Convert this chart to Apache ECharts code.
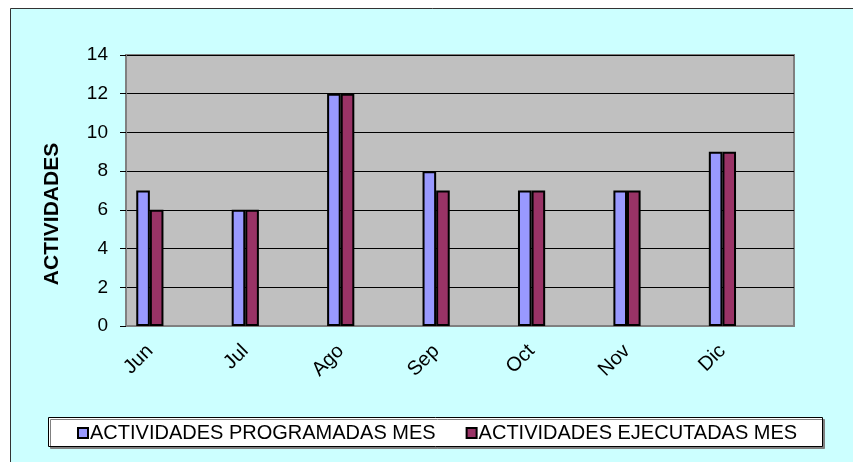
<!DOCTYPE html>
<html>
<head>
<meta charset="utf-8">
<script src="https://cdn.jsdelivr.net/npm/echarts@6/dist/echarts.min.js"></script>
<style>
html,body{margin:0;padding:0;background:#fff;}
#c{width:853px;height:462px;}
</style>
</head>
<body>
<div id="c"></div>
<script>
const categories = ['Jun', '', 'Jul', '', 'Ago', '', 'Sep', '', 'Oct', '', 'Nov', '', 'Dic', ''];
const programadas = [7, null, 6, null, 12, null, 8, null, 7, null, 7, null, 9, null];
const ejecutadas = [6, null, 6, null, 12, null, 7, null, 7, null, 7, null, 9, null];
const seriesNames = ['ACTIVIDADES PROGRAMADAS MES', 'ACTIVIDADES EJECUTADAS MES'];
const yTitle = 'ACTIVIDADES';

const chart = echarts.init(document.getElementById('c'), null, {renderer: 'canvas'});
const font = 'Arial, "Liberation Sans", sans-serif';
chart.setOption({
  animation: false,
  backgroundColor: '#ffffff',
  graphic: [
    {type: 'rect', z: -10, shape: {x: 10.5, y: 8.5, width: 860, height: 470},
     style: {fill: '#CCFFFF', stroke: '#333333', lineWidth: 1}},
    {type: 'rect', z: 1, shape: {x: 48.5, y: 417.5, width: 774, height: 29},
     style: {fill: '#ffffff', stroke: '#000000', lineWidth: 1,
             shadowColor: '#808080', shadowOffsetX: 2, shadowOffsetY: 2, shadowBlur: 0}},
    {type: 'text', x: 52, y: 214, rotation: Math.PI / 2, z: 5,
     style: {text: yTitle, fill: '#000', font: 'bold 21px ' + font, align: 'center', verticalAlign: 'middle'}}
  ],
  grid: {left: 126, top: 55, right: 59, bottom: 136, show: true,
         backgroundColor: '#C0C0C0', borderColor: '#808080', borderWidth: 2},
  legend: {
    data: seriesNames,
    left: 72, top: 418,
    itemWidth: 10, itemHeight: 10, itemGap: 30,
    icon: 'rect',
    textStyle: {fontFamily: font, fontSize: 20, color: '#000', padding: [0, 0, 0, -3]},
    z: 10
  },
  xAxis: {
    type: 'category', data: categories,
    axisLine: {lineStyle: {color: '#808080', width: 2}},
    axisTick: {interval: 0, length: 6, lineStyle: {color: '#000'}},
    axisLabel: {interval: 0, rotate: 45, margin: 22, color: '#000', fontFamily: font, fontSize: 20}
  },
  yAxis: {
    type: 'value', min: 0, max: 14, interval: 2,
    axisLine: {show: true, lineStyle: {color: '#808080', width: 2}},
    axisTick: {show: true, length: 6, lineStyle: {color: '#000'}},
    axisLabel: {margin: 18, color: '#000', fontFamily: font, fontSize: 19},
    splitLine: {lineStyle: {color: '#000', width: 1}}
  },
  series: [
    {name: seriesNames[0], type: 'bar', data: programadas, barGap: '0%', barCategoryGap: '43%',
     itemStyle: {color: '#9999FF', borderColor: '#000', borderWidth: 2}},
    {name: seriesNames[1], type: 'bar', data: ejecutadas,
     itemStyle: {color: '#993366', borderColor: '#000', borderWidth: 2}}
  ]
});
</script>
</body>
</html>
